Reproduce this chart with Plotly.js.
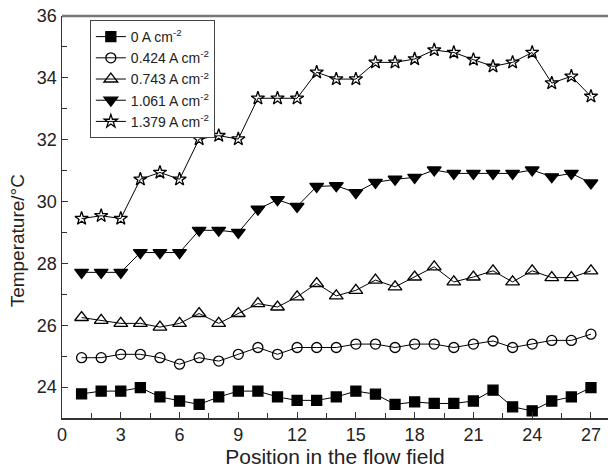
<!DOCTYPE html>
<html>
<head>
<meta charset="utf-8">
<script src="https://cdn.plot.ly/plotly-3.0.1.min.js"></script>
<style>html,body{margin:0;padding:0;background:#fff;}#chart{width:608px;height:471px;}</style>
</head>
<body>
<div id="chart"></div>
<script>
const positions = [1,2,3,4,5,6,7,8,9,10,11,12,13,14,15,16,17,18,19,20,21,22,23,24,25,26,27];
const seriesNames = ["0 A cm<sup>-2</sup>", "0.424 A cm<sup>-2</sup>", "0.743 A cm<sup>-2</sup>", "1.061 A cm<sup>-2</sup>", "1.379 A cm<sup>-2</sup>"];
const t0 = [23.78,23.87,23.87,23.98,23.68,23.55,23.44,23.68,23.87,23.87,23.68,23.57,23.57,23.68,23.87,23.77,23.44,23.52,23.47,23.47,23.55,23.90,23.36,23.23,23.55,23.68,23.98];
const t424 = [24.95,24.95,25.06,25.06,24.95,24.74,24.95,24.84,25.06,25.28,25.06,25.28,25.28,25.28,25.39,25.39,25.28,25.39,25.39,25.28,25.39,25.49,25.28,25.39,25.51,25.51,25.71];
const t743 = [26.25,26.16,26.06,26.06,25.94,26.06,26.38,26.06,26.38,26.70,26.59,26.92,27.35,26.95,27.13,27.46,27.24,27.56,27.89,27.40,27.56,27.76,27.40,27.76,27.54,27.54,27.76];
const t1061 = [27.71,27.71,27.71,28.35,28.35,28.35,29.07,29.07,29.00,29.75,30.06,29.84,30.49,30.51,30.29,30.62,30.72,30.78,31.02,30.91,30.91,30.91,30.91,31.02,30.80,30.91,30.60];
const t1379 = [29.45,29.54,29.45,30.72,30.94,30.72,32.02,32.13,32.02,33.34,33.34,33.34,34.18,33.96,33.96,34.50,34.50,34.61,34.90,34.82,34.59,34.37,34.50,34.82,33.83,34.05,33.40];
const xTicks = [0,3,6,9,12,15,18,21,24,27];
const yTicks = [24,26,28,30,32,34,36];

const seriesValues = [t0, t424, t743, t1061, t1379];
const symbols = ["square", "circle-open", "triangle-up-open", "triangle-down", "star-open"];
const sizes = [10, 10, 12, 12, 10];

const traces = seriesValues.map((vals, i) => ({
  x: positions, y: vals, name: seriesNames[i], type: "scatter", mode: "lines+markers",
  line: {color: "#000", width: 1},
  marker: {symbol: symbols[i], size: sizes[i], color: "#000", line: {color: "#000", width: 1.3}}
}));

const font = "Liberation Sans, Arial, sans-serif";
const layout = {
  width: 608, height: 471,
  margin: {l: 62, r: 0, t: 16, b: 53},
  paper_bgcolor: "#fff", plot_bgcolor: "#fff",
  font: {family: font, color: "#222"},
  showlegend: true,
  legend: {x: 0.051, y: 0.99, xanchor: "left", yanchor: "top", bordercolor: "#444", borderwidth: 1,
           font: {family: font, size: 14, color: "#222"}, bgcolor: "#fff", tracegroupgap: 0},
  xaxis: {range: [0, 27.87], tickvals: xTicks, ticktext: xTicks.map(String), ticks: "inside", ticklen: 6,
          tickcolor: "#333", showline: true, linecolor: "#333", linewidth: 1.5, showgrid: false, zeroline: false,
          tickfont: {size: 18, family: font, color: "#222"},
          minor: {dtick: 1.5, tick0: 0, ticks: "inside", ticklen: 5, tickcolor: "#333", showgrid: false},
          title: {text: "Position in the flow field", font: {size: 21, family: font, color: "#222"}, standoff: 2}},
  yaxis: {range: [23, 36], tickvals: yTicks, ticktext: yTicks.map(String), ticks: "inside", ticklen: 6,
          tickcolor: "#333", showline: true, linecolor: "#333", linewidth: 1.5, showgrid: false, zeroline: false,
          tickfont: {size: 18, family: font, color: "#222"},
          minor: {dtick: 1, tick0: 23, ticks: "inside", ticklen: 5, tickcolor: "#333", showgrid: false}},
  annotations: [{text: "Temperature/°C", xref: "paper", yref: "paper", x: -0.082, y: 0.44, textangle: -90,
                 showarrow: false, xanchor: "center", yanchor: "middle", font: {size: 19, family: font, color: "#222"}}],
  shapes: [{type: "line", xref: "paper", yref: "paper", x0: 0, x1: 1, y0: 1, y1: 1, line: {color: "#777", width: 2.5}}]
};

Plotly.newPlot("chart", traces, layout, {displayModeBar: false, staticPlot: true});
</script>
</body>
</html>
